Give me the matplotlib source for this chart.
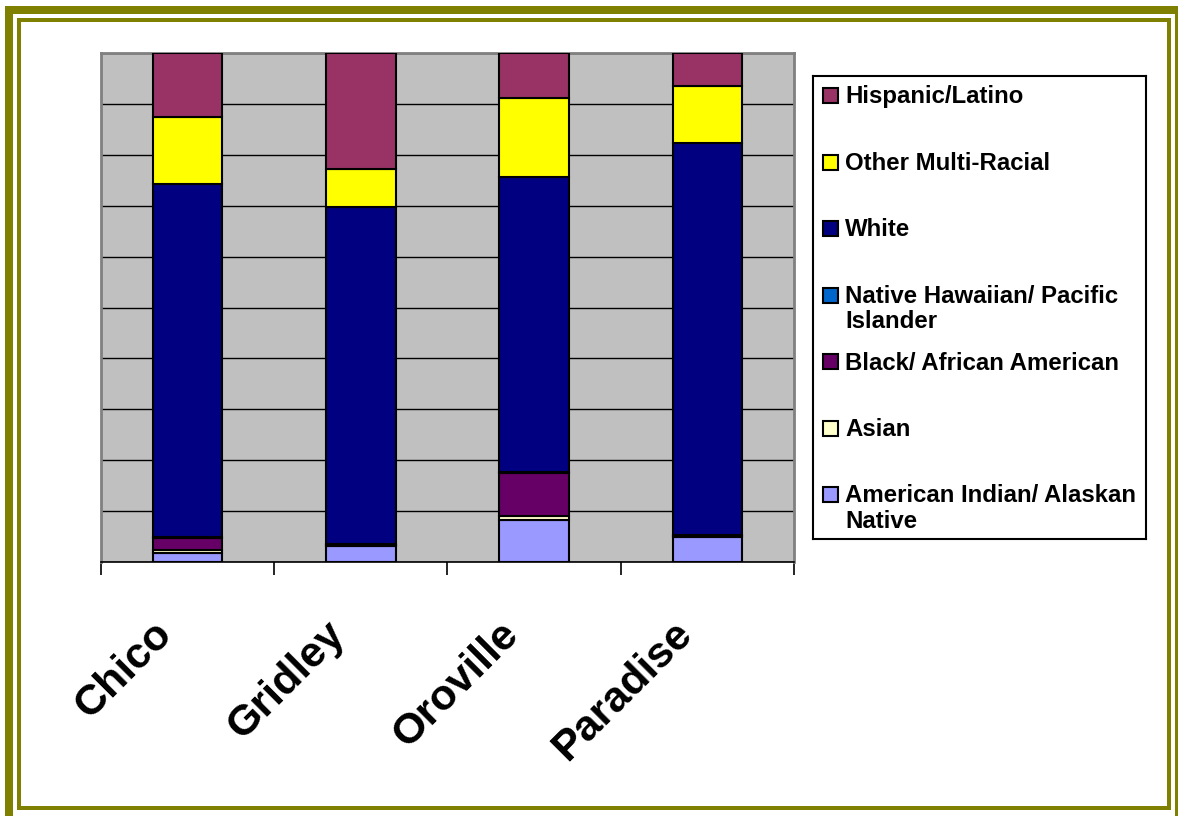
import numpy as np
import matplotlib
matplotlib.use("Agg")
import matplotlib.pyplot as plt
from matplotlib.patches import Rectangle
from matplotlib.transforms import ScaledTranslation

plt.rcParams['font.family'] = ['Liberation Sans', 'DejaVu Sans']
plt.rcParams['font.weight'] = 'bold'

# ---- data (percent of population) ----
towns = ['Chico', 'Gridley', 'Oroville', 'Paradise']
am_indian = [1.8, 3.2, 8.2, 5.0]
asian = [0.5, 0.1, 0.9, 0.1]
black = [2.5, 0.2, 8.3, 0.1]
hawaiian = [0.2, 0.1, 0.3, 0.1]
white = [69.3, 66.1, 57.9, 77.0]
multi = [13.1, 7.5, 15.6, 11.2]
hispanic = [12.6, 22.8, 8.8, 6.5]

# bottom -> top stacking order
series = [
    ('American Indian/ Alaskan\nNative', am_indian, '#9999FF'),
    ('Asian', asian, '#FFFFCC'),
    ('Black/ African American', black, '#660066'),
    ('Native Hawaiian/ Pacific\nIslander', hawaiian, '#0066CC'),
    ('White', white, '#000080'),
    ('Other Multi-Racial', multi, '#FFFF00'),
    ('Hispanic/Latino', hispanic, '#993366'),
]

W, H = 1178, 816
fig = plt.figure(figsize=(W / 100, H / 100), dpi=100)

def px_box(x0, y0, x1, y1):
    # pixel box (top-left origin) -> figure fraction rect
    return [x0 / W, 1 - y1 / H, (x1 - x0) / W, (y1 - y0) / H]

# ---- olive double frame ----
olive = '#808000'
fig.patches.append(Rectangle((9 / W, 1 - 818 / H), 1170 / W, 808 / H,
                             transform=fig.transFigure, fill=False,
                             edgecolor=olive, linewidth=8 * 0.72))
fig.patches.append(Rectangle((19 / W, 1 - 808 / H), 1150 / W, 788 / H,
                             transform=fig.transFigure, fill=False,
                             edgecolor=olive, linewidth=4 * 0.72))

# ---- main chart ----
ax = fig.add_axes(px_box(101, 53, 794, 562))
ax.set_facecolor('#C0C0C0')
x = np.arange(len(towns))
bottom = np.zeros(len(towns))
for name, vals, clr in series:
    ax.bar(x, vals, width=0.4, bottom=bottom, color=clr,
           edgecolor='black', linewidth=1.5, zorder=3)
    bottom += np.array(vals)

ax.set_xlim(-0.5, len(towns) - 0.5)
ax.set_ylim(0, 100)
ax.set_yticks(np.arange(0, 101, 10))
ax.yaxis.grid(True, color='black', linewidth=1.0)
ax.set_axisbelow(True)
ax.tick_params(axis='y', length=0, labelleft=False)

ax.set_xticks(x)
ax.set_xticklabels(towns, fontsize=31, fontweight='bold', rotation=45,
                   ha='right', va='top', rotation_mode='anchor')
ax.set_xticks(np.arange(-0.5, len(towns)), minor=True)
ax.tick_params(axis='x', which='major', length=0, pad=0)
ax.tick_params(axis='x', which='minor', length=9.5, width=1.2, color='black')
off = ScaledTranslation(-36 / 100, -52 / 100, fig.dpi_scale_trans)
for lab in ax.get_xticklabels():
    lab.set_transform(lab.get_transform() + off)

for side in ('top', 'left', 'right'):
    ax.spines[side].set_color('#808080')
    ax.spines[side].set_linewidth(2)
ax.spines['bottom'].set_color('black')
ax.spines['bottom'].set_linewidth(1.2)

# ---- legend box ----
lg = fig.add_axes(px_box(813, 76, 1146, 539))
lg.set_xlim(813, 1146)
lg.set_ylim(539, 76)
lg.set_xticks([])
lg.set_yticks([])
for sp in lg.spines.values():
    sp.set_linewidth(1.5)
    sp.set_color('black')

for i, (name, vals, clr) in enumerate(reversed(series)):
    base = 103 + 66.5 * i
    lg.add_patch(Rectangle((823, base - 15), 15, 15, facecolor=clr,
                           edgecolor='black', linewidth=1.5))
    lg.text(845, base, name, fontsize=17.3, fontweight='bold',
            va='top', ha='left', linespacing=1.12,
            transform=lg.transData + ScaledTranslation(0, 17.5 / 100, fig.dpi_scale_trans))

fig.savefig('out.png', dpi=100)
